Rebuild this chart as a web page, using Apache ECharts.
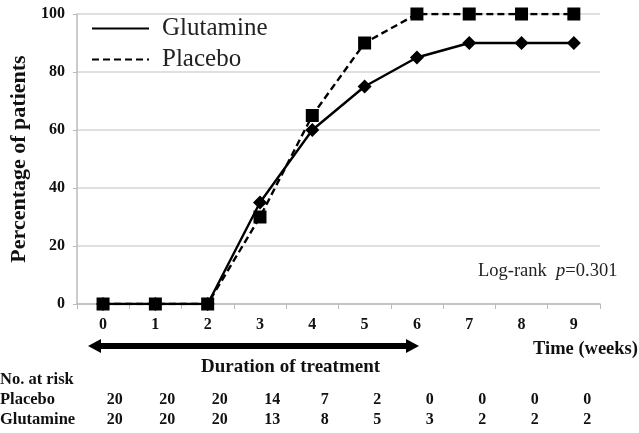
<!DOCTYPE html>
<html>
<head>
<meta charset="utf-8">
<script src="https://cdn.jsdelivr.net/npm/echarts@6/dist/echarts.min.js"></script>
<style>
  html, body { margin: 0; padding: 0; background: #fff; }
  #chart { width: 639px; height: 433px; }
</style>
</head>
<body>
<div id="chart"></div>
<script>
// weeks on the x axis
const weeks = ["0", "1", "2", "3", "4", "5", "6", "7", "8", "9"];
// percentage of patients
const glutamine = [0, 0, 0, 35, 60, 75, 85, 90, 90, 90];
const placebo = [0, 0, 0, 30, 65, 90, 100, 100, 100, 100];
// number at risk
const riskPlacebo = [20, 20, 20, 14, 7, 2, 0, 0, 0, 0];
const riskGlutamine = [20, 20, 20, 13, 8, 5, 3, 2, 2, 2];
const yTicks = [0, 20, 40, 60, 80, 100];

const serif = "'Liberation Serif', 'DejaVu Serif', serif";
const chart = echarts.init(document.getElementById("chart"));

const riskLabel = { margin: 8, fontFamily: serif, fontWeight: "bold", fontSize: 16, color: "#111", interval: 0 };

const option = {
  animation: false,
  backgroundColor: "#fff",
  legend: {
    left: 86,
    top: 11,
    orient: "vertical",
    itemWidth: 57,
    itemHeight: 14,
    itemGap: 6,
    itemStyle: { opacity: 0 },
    textStyle: { fontFamily: serif, fontSize: 25, color: "#222", padding: [0, 0, 0, 8] },
    data: ["Glutamine", "Placebo"]
  },
  grid: [
    { left: 75, right: 39, top: 14, height: 290 },
    { left: 88.5, right: 25.5, top: 14, height: 290 }
  ],
  xAxis: [
    {
      type: "category",
      data: weeks,
      gridIndex: 0,
      axisLine: { lineStyle: { color: "#bbb", width: 1.5 } },
      axisTick: { show: true, length: 5, lineStyle: { color: "#bbb" } },
      axisLabel: { margin: 13, fontFamily: serif, fontWeight: "bold", fontSize: 16, color: "#111" },
      splitLine: { show: false }
    },
    {
      type: "category",
      data: riskPlacebo,
      gridIndex: 1,
      position: "bottom",
      offset: 80,
      axisLine: { show: false },
      axisTick: { show: false },
      axisLabel: riskLabel
    },
    {
      type: "category",
      data: riskGlutamine,
      gridIndex: 1,
      position: "bottom",
      offset: 100,
      axisLine: { show: false },
      axisTick: { show: false },
      axisLabel: riskLabel
    }
  ],
  yAxis: [
    {
      type: "value",
      gridIndex: 0,
      min: yTicks[0],
      max: yTicks[yTicks.length - 1],
      interval: 20,
      name: "Percentage of patients",
      nameLocation: "middle",
      nameGap: 44,
      nameTextStyle: { fontFamily: serif, fontWeight: "bold", fontSize: 22, color: "#111" },
      axisLine: { show: true, lineStyle: { color: "#bbb", width: 1.5 } },
      axisTick: { show: true, length: 4, lineStyle: { color: "#bbb" } },
      axisLabel: { margin: 12, fontFamily: serif, fontWeight: "bold", fontSize: 16, color: "#111" },
      splitLine: { lineStyle: { color: "#d6d6d6", width: 1.5 } }
    },
    { type: "value", gridIndex: 1, show: false }
  ],
  series: [
    {
      name: "Glutamine",
      type: "line",
      data: glutamine,
      xAxisIndex: 0,
      yAxisIndex: 0,
      symbol: "diamond",
      symbolSize: 14,
      color: "#000",
      lineStyle: { color: "#000", width: 2.4, type: "solid" },
      itemStyle: { color: "#000" },
      z: 3
    },
    {
      name: "Placebo",
      type: "line",
      data: placebo,
      xAxisIndex: 0,
      yAxisIndex: 0,
      symbol: "rect",
      symbolSize: 13,
      color: "#000",
      lineStyle: { color: "#000", width: 2.4, type: [7, 4] },
      itemStyle: { color: "#000" },
      z: 2
    }
  ],
  graphic: [
    {
      type: "polygon",
      shape: {
        points: [
          [88, 346], [101, 339], [101, 343], [406, 343], [406, 339],
          [419, 346], [406, 353], [406, 349], [101, 349], [101, 353]
        ]
      },
      style: { fill: "#000" }
    },
    {
      type: "text", left: 201, top: 358,
      style: { text: "Duration of treatment", font: "bold 19px " + serif, fill: "#111" }
    },
    {
      type: "text", left: 533, top: 340,
      style: { text: "Time (weeks)", font: "bold 18.5px " + serif, fill: "#111" }
    },
    {
      type: "text", left: 478, top: 262,
      style: {
        text: "Log-rank  {i|p}=0.301",
        font: "18.5px " + serif,
        fill: "#222",
        rich: { i: { fontFamily: serif, fontSize: 18.5, fontStyle: "italic", fill: "#222" } }
      }
    },
    {
      type: "text", left: 0, top: 371,
      style: { text: "No. at risk", font: "bold 16.5px " + serif, fill: "#111" }
    },
    {
      type: "text", left: 0, top: 391,
      style: { text: "Placebo", font: "bold 16.5px " + serif, fill: "#111" }
    },
    {
      type: "text", left: 0, top: 411,
      style: { text: "Glutamine", font: "bold 16.5px " + serif, fill: "#111" }
    }
  ]
};

chart.setOption(option);
</script>
</body>
</html>
